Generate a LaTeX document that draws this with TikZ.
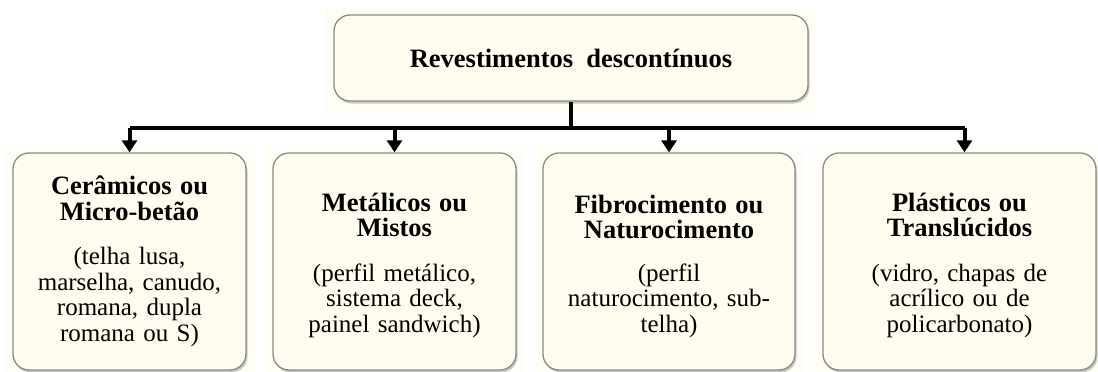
\documentclass[tikz,border=0pt]{standalone}
\usepackage{fontspec}
\setmainfont{Liberation Serif}
\usetikzlibrary{arrows.meta,shadows}
\definecolor{boxfill}{HTML}{FFFDF0}
\definecolor{glowfill}{HTML}{FFFEF6}
\definecolor{boxline}{HTML}{8A8A8A}
\newcommand{\hd}[1]{{\fontsize{26.5}{27}\selectfont\bfseries #1}}
\tikzset{
  catbox/.style={draw=boxline, line width=1.3pt, fill=boxfill, rounded corners=16pt,
    inner sep=0pt, align=center, font=\fontsize{25}{25.5}\selectfont,
    drop shadow={shadow xshift=1.5pt, shadow yshift=-2.5pt, opacity=0.35, fill=black!60}},
  glow/.style={fill=glowfill, draw=none},
  bar/.style={line width=4pt, draw=black},
  arr/.style={line width=4pt, draw=black, -{Triangle[width=15pt,length=12pt]}},
}
\begin{document}
\begin{tikzpicture}[x=1pt,y=-1pt]
\useasboundingbox (0,0) rectangle (1098,372);
% glow backgrounds
\fill[glow] (325,8) rectangle (815,115);
\fill[glow] (5,147) rectangle (256,372);
\fill[glow] (265,147) rectangle (525,372);
\fill[glow] (535,147) rectangle (804,372);
\fill[glow] (815,147) rectangle (1098,372);
% nodes
\node[catbox, minimum width=474pt, minimum height=86pt] (top) at (571,58)
  {\hd{Revestimentos\ \ descontínuos}};
\node[catbox, minimum width=233pt, minimum height=217pt, text width=225pt] (b1) at (129.5,261.5)
  {\hd{Cerâmicos ou\\Micro-betão}\\[19pt](telha lusa,\\marselha, canudo,\\romana, dupla\\romana ou S)};
\node[catbox, minimum width=243pt, minimum height=217pt, text width=235pt] (b2) at (394.5,261.5)
  {\mbox{}\\[-1pt]\hd{Metálicos ou\\Mistos}\\[19pt](perfil metálico,\\sistema deck,\\painel sandwich)};
\node[catbox, minimum width=252pt, minimum height=217pt, text width=244pt] (b3) at (669,261.5)
  {\mbox{}\\[1pt]\hd{Fibrocimento ou\\Naturocimento}\\[17pt](perfil\\naturocimento, sub-\\telha)};
\node[catbox, minimum width=273pt, minimum height=217pt, text width=265pt] (b4) at (959.5,261.5)
  {\mbox{}\\[-1pt]\hd{Plásticos ou\\Translúcidos}\\[19pt](vidro, chapas de\\acrílico ou de\\policarbonato)};
% connectors
\coordinate (bus) at ([yshift=-26pt]top.south);
\coordinate (a4) at ([xshift=5pt]b4.north);
\draw[bar] (top.south) -- (bus);
\draw[bar] (bus -| b1.north) -- (bus -| a4);
\draw[arr] (bus -| b1.north) -- (b1.north);
\draw[arr] (bus -| b2.north) -- (b2.north);
\draw[arr] (bus -| b3.north) -- (b3.north);
\draw[arr] (bus -| a4) -- (a4);
\end{tikzpicture}
\end{document}
